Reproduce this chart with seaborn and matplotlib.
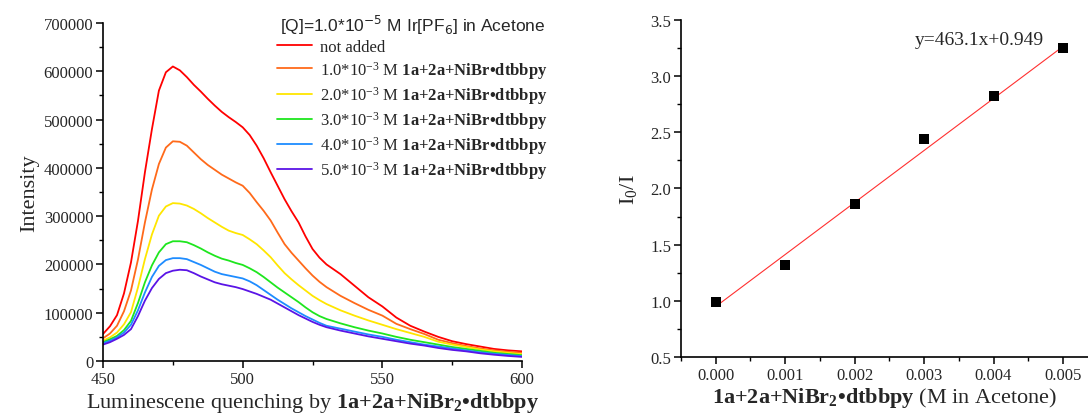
import numpy as np
import pandas as pd
import matplotlib
matplotlib.use("Agg")
import matplotlib.pyplot as plt
from matplotlib.font_manager import FontProperties
from matplotlib.ticker import MultipleLocator, FormatStrFormatter
import seaborn as sns

# ---- spectra (Luminescence quenching) ----
wavelength = [450, 452.5, 455, 457.5, 460, 462.5, 465, 467.5, 470, 472.5, 475, 477.5, 480,
              482.5, 485, 487.5, 490, 492.5, 495, 497.5, 500, 502.5, 505, 507.5, 510, 512.5,
              515, 517.5, 520, 522.5, 525, 527.5, 530,
              535, 540, 545, 550, 555, 560, 565, 570, 575, 580, 585, 590, 595, 600]

i_not_added = [56000, 72000, 95000, 140000, 204000, 290000, 391000, 480000, 560000, 598000,
               610000, 602000, 588000, 572000, 558000, 543000, 529000, 516000, 505000, 495000,
               484000, 468000, 446000, 420000, 391000, 363000, 335000, 310000, 287000, 258000,
               232000, 214000, 200000,
               180000, 156000, 132000, 113000, 90000, 73000, 61000, 50000, 41000, 35000,
               30000, 25000, 22000, 20000]
i_1mM = [47000, 57000, 73000, 103000, 146000, 210000, 287000, 355000, 408000, 442000,
         455000, 454000, 446000, 432000, 418000, 406000, 396000, 386000, 378000, 370000,
         363000, 348000, 329000, 311000, 291000, 266000, 242000, 224000, 208000, 192000,
         177000, 164000, 153000,
         135000, 120000, 106000, 94000, 77000, 66000, 56000, 44000, 37000, 31000,
         26000, 22000, 19000, 17000]
i_2mM = [42000, 49000, 59000, 76000, 101000, 152000, 211000, 262000, 301000, 320000,
         327000, 326000, 322000, 315000, 306000, 296000, 287000, 278000, 270000, 265000,
         261000, 252000, 242000, 229000, 215000, 198000, 182000, 169000, 157000, 146000,
         135000, 126000, 118000,
         105000, 94000, 84000, 75000, 66000, 58000, 50000, 40000, 34000, 29000,
         24000, 20000, 17000, 14000]
i_3mM = [39000, 45000, 52000, 64000, 83000, 120000, 163000, 198000, 225000, 242000,
         248000, 248000, 246000, 240000, 233000, 225000, 218000, 212000, 208000, 203000,
         199000, 192000, 184000, 174000, 163000, 152000, 142000, 132000, 122000, 111000,
         101000, 93000, 87000,
         78000, 70000, 63000, 57000, 50000, 44000, 39000, 34000, 29000, 25000,
         21000, 17000, 14500, 12000]
i_4mM = [37000, 42000, 49000, 59000, 75000, 105000, 142000, 174000, 197000, 209000,
         213000, 213000, 211000, 205000, 199000, 192000, 185000, 180000, 177000, 174000,
         171000, 165000, 157000, 147000, 137000, 127000, 118000, 109000, 101000, 93000,
         86000, 79000, 73000,
         67000, 61000, 55000, 50000, 44000, 39000, 34000, 30000, 26000, 22000,
         18000, 15000, 12500, 10000]
i_5mM = [34000, 39000, 46000, 54000, 66000, 93000, 125000, 151000, 170000, 182000,
         187000, 189000, 188000, 182000, 175000, 169000, 163000, 159000, 156000, 153000,
         149000, 144000, 139000, 133000, 127000, 119000, 111000, 103000, 95000, 88000,
         81000, 75000, 70000,
         63000, 57000, 51000, 46000, 41000, 36000, 32000, 27000, 23000, 20000,
         16000, 13000, 10500, 8500]

series_labels = [
    "not added",
    r"1.0*10$^{-3}$ M $\mathbf{1a{+}2a{+}NiBr•dtbbpy}$",
    r"2.0*10$^{-3}$ M $\mathbf{1a{+}2a{+}NiBr•dtbbpy}$",
    r"3.0*10$^{-3}$ M $\mathbf{1a{+}2a{+}NiBr•dtbbpy}$",
    r"4.0*10$^{-3}$ M $\mathbf{1a{+}2a{+}NiBr•dtbbpy}$",
    r"5.0*10$^{-3}$ M $\mathbf{1a{+}2a{+}NiBr•dtbbpy}$",
]
series_colors = ["#ff0000", "#ff6a1a", "#ffe600", "#1ee61e", "#1e8cff", "#5a14e6"]

# ---- Stern-Volmer ----
conc = [0.000, 0.001, 0.002, 0.003, 0.004, 0.005]
i0_over_i = [0.99, 1.32, 1.86, 2.44, 2.82, 3.25]
fit_slope = 463.1
fit_intercept = 0.949

sns.set_style("ticks")
plt.rcParams["font.family"] = ["Liberation Serif", "DejaVu Serif"]
plt.rcParams["mathtext.fontset"] = "custom"
plt.rcParams["mathtext.rm"] = "Liberation Serif"
plt.rcParams["mathtext.it"] = "Liberation Serif:italic"
plt.rcParams["mathtext.bf"] = "Liberation Serif:bold"
plt.rcParams["xtick.direction"] = "out"
plt.rcParams["ytick.direction"] = "out"

fig = plt.figure(figsize=(10.88, 4.14), dpi=100)
ax1 = fig.add_axes([0.0947, 0.1256, 0.3851, 0.8164])
ax2 = fig.add_axes([0.6259, 0.1353, 0.3741, 0.8140])

spectra = [i_not_added, i_1mM, i_2mM, i_3mM, i_4mM, i_5mM]
df = pd.concat([pd.DataFrame({"wl": wavelength, "I": s, "sample": lab})
                for s, lab in zip(spectra, series_labels)], ignore_index=True)
sns.lineplot(data=df, x="wl", y="I", hue="sample", hue_order=series_labels,
             palette=series_colors, linewidth=1.3, ax=ax1, legend=True)

handles, labels = ax1.get_legend_handles_labels()
title_fp = FontProperties(family="Liberation Sans", size=12.5, math_fontfamily="dejavusans")
ax1.legend(handles, labels, title=r"[Q]=1.0*10$^{-5}$ M Ir[PF$_6$] in Acetone",
           title_fontproperties=title_fp, frameon=False, fontsize=12,
           loc="upper left", bbox_to_anchor=(0.415, 1.03), borderaxespad=0,
           borderpad=0, handlelength=2.1, handletextpad=0.5, labelspacing=0.2)

ax1.set_xlim(450, 600)
ax1.set_ylim(0, 700000)
ax1.xaxis.set_major_locator(MultipleLocator(50))
ax1.xaxis.set_minor_locator(MultipleLocator(25))
ax1.yaxis.set_major_locator(MultipleLocator(100000))
ax1.yaxis.set_minor_locator(MultipleLocator(50000))
ax1.set_xlabel(r"Luminescene quenching by $\mathbf{1a{+}2a{+}NiBr_{2}•dtbbpy}$", fontsize=16, labelpad=2)
ax1.set_ylabel("Intensity", fontsize=16, labelpad=3)

sns.scatterplot(x=conc, y=i0_over_i, marker="s", color="black", s=55, edgecolor="black",
                linewidth=0, ax=ax2, zorder=3)
fit_x = np.array([conc[0], conc[-1]])
sns.lineplot(x=fit_x, y=fit_slope * fit_x + fit_intercept, color="#ff3030", linewidth=0.8, ax=ax2)
ax2.text(0.00287, 3.33, "y=463.1x+0.949", fontsize=14, ha="left", va="center")

ax2.set_xlim(-0.0005, 0.00536)
ax2.set_ylim(0.5, 3.5)
ax2.xaxis.set_major_locator(MultipleLocator(0.001))
ax2.xaxis.set_minor_locator(MultipleLocator(0.0005))
ax2.yaxis.set_major_locator(MultipleLocator(0.5))
ax2.yaxis.set_minor_locator(MultipleLocator(0.25))
ax2.xaxis.set_major_formatter(FormatStrFormatter("%.3f"))
ax2.yaxis.set_major_formatter(FormatStrFormatter("%.1f"))
ax2.set_xlabel(r"$\mathbf{1a{+}2a{+}NiBr_{2}•dtbbpy}$ (M in Acetone)", fontsize=16, labelpad=2)
ax2.set_ylabel(r"I$_0$/I", fontsize=16, labelpad=8)

for ax in (ax1, ax2):
    sns.despine(ax=ax)
    for side in ("left", "bottom"):
        ax.spines[side].set_linewidth(1.2)
        ax.spines[side].set_color("black")
    ax.tick_params(which="major", length=5, width=1.1, labelsize=12, color="black", pad=2)
    ax.tick_params(which="minor", length=3, width=1.0, color="black")

fig.savefig("out.png", dpi=100)
